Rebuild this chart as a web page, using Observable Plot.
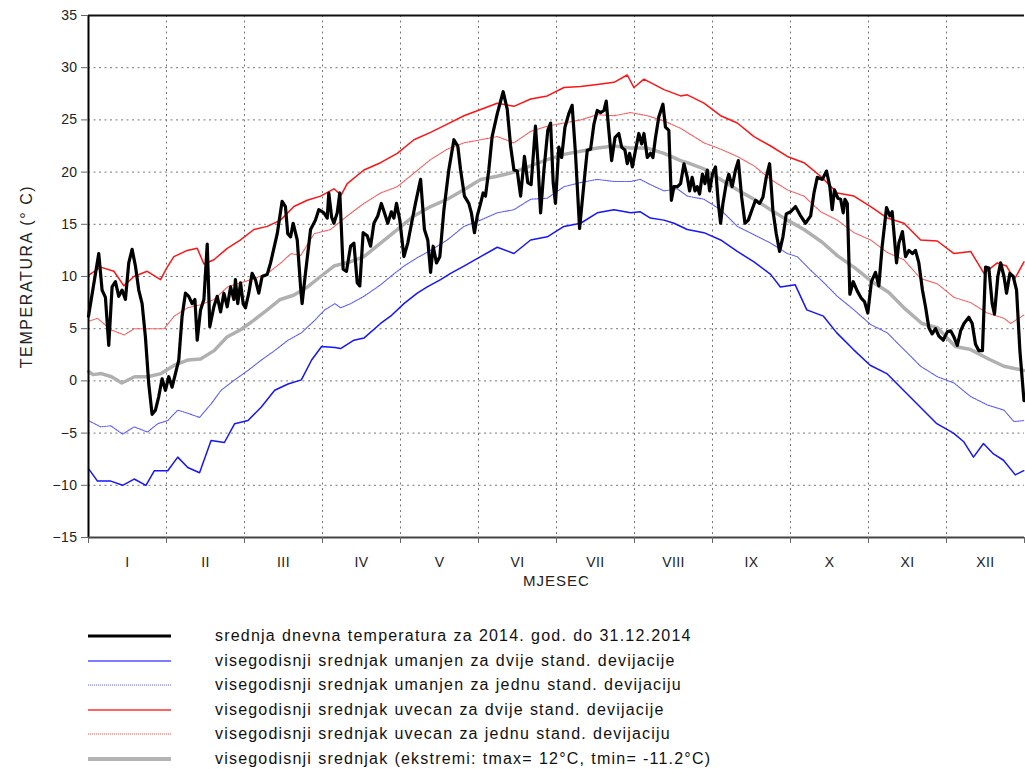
<!DOCTYPE html>
<html>
<head>
<meta charset="utf-8">
<script src="https://cdn.jsdelivr.net/npm/d3@7"></script>
<script src="https://cdn.jsdelivr.net/npm/@observablehq/plot@0.6"></script>
<style>
  html, body { margin: 0; padding: 0; background: #fff; }
  body { width: 1025px; height: 769px; position: relative; overflow: hidden; font-family: "Liberation Sans", Arial, Helvetica, sans-serif; }
  #chart { position: absolute; left: 0; top: 0; }
  #chart text { letter-spacing: 0.4px; }
  #chart g[aria-label="y-axis label"] text { font-size: 16px; letter-spacing: 1.6px; }
  #chart g[aria-label="x-axis label"] text { font-size: 15px; letter-spacing: 1px; }
  #legend { position: absolute; left: 0; top: 624px; width: 1025px; }
  .row { position: relative; height: 24.6px; }
  .row svg { position: absolute; left: 88px; top: 0; }
  .row span { position: absolute; left: 215px; top: 0; line-height: 24.6px; font-size: 16px; letter-spacing: 1.2px; word-spacing: 0.5px; color: #111; white-space: nowrap; }
</style>
</head>
<body>
<div id="chart"></div>
<div id="legend"></div>
<script>
// ---------------- DATA ----------------
const monthLabels = ["I","II","III","IV","V","VI","VII","VIII","IX","X","XI","XII"];
const yTicks = [-15,-10,-5,0,5,10,15,20,25,30,35];

// srednja dnevna temperatura 2014 : [day of year, °C]
const daily2014 = [
[0,6.2],[4,12.2],[5.3,8.7],[6.6,8.0],[7.9,3.4],[9.2,9.0],[10.5,9.5],[11.8,8.1],[13.1,8.7],[14.4,7.8],
[15.7,11.3],[17,12.6],[18.3,11.0],[19.6,8.7],[20.9,7.4],[22.2,4.2],[23.5,-0.3],[24.8,-3.2],[26.1,-2.8],[27.4,-1.5],
[28.7,0.2],[30,-0.9],[31.3,0.4],[32.6,-0.6],[33.9,0.7],[35.2,2.0],[36.5,6.2],[37.8,8.4],[39.1,8.1],[40.4,7.4],
[41.5,7.8],[42.4,3.9],[43.7,6.8],[45,7.8],[46.3,13.1],[47.3,5.2],[48.9,7.1],[50.2,8.1],[51.5,6.6],[52.8,8.4],
[54.1,7.1],[55.4,9.0],[56.7,7.8],[57.3,9.7],[58.2,7.4],[59.3,9.4],[60.3,7.4],[61.2,7.0],[62.5,8.4],[63.8,10.3],
[65.1,9.7],[66.4,8.4],[67.7,10.0],[69.7,10.2],[71,11.3],[73.6,14.1],[75.5,17.2],[76.8,16.7],[77.7,14.1],[78.8,13.8],
[79.8,15.1],[81.4,13.5],[82.7,9.0],[83.3,7.4],[84.6,10.3],[86.6,14.5],[88.5,15.4],[89.8,16.4],[91.8,16.1],[93.1,15.6],
[93.7,18.0],[94.8,15.7],[95.7,15.1],[97,16.1],[98,18.0],[99.3,10.7],[100.6,10.5],[102.2,12.9],[103.5,13.2],[104.8,9.4],
[105.8,9.1],[107.1,14.2],[108.7,13.9],[110,12.9],[111.3,15.1],[112.8,15.8],[114.2,17.0],[115.4,16.1],[116.7,15.1],[118.1,16.2],
[119.1,15.6],[120.1,17.0],[121.4,15.4],[123,11.9],[124.5,13.2],[125.9,15.0],[127.5,17.0],[129.5,19.3],[131,14.5],[132.3,13.5],
[133.4,10.4],[134.4,12.9],[135.7,11.3],[137,11.9],[138.6,16.4],[140.5,20.2],[142.5,23.1],[144,22.5],[145.1,20.2],[146.6,17.7],
[148.3,17.0],[149.3,16.1],[150.5,14.2],[151.6,15.8],[152.9,17.0],[153.9,18.0],[154.8,17.7],[156.1,20.2],[157.4,23.4],[159.4,25.6],
[161.7,27.7],[163.3,26.0],[164.6,22.5],[165.9,20.2],[167.2,20.1],[168.5,17.7],[170,21.5],[171.3,19.0],[172.6,18.8],[174.3,24.4],
[175.2,21.2],[176.3,16.1],[177.6,20.2],[179.1,24.0],[180.2,24.7],[181.2,19.0],[182.1,17.0],[183.4,22.4],[184.5,21.4],[185.8,24.3],
[187.3,25.6],[188.6,26.4],[189.9,21.8],[191.5,14.6],[193.2,18.9],[194.5,22.1],[195.8,22.2],[197.1,24.6],[198.4,25.9],[199.7,25.7],
[201,25.9],[201.9,26.8],[202.9,24.0],[204,21.1],[205.3,23.3],[206.8,23.7],[207.9,22.4],[209.2,22.1],[210.1,20.8],[211,21.8],
[212.1,20.5],[213.3,22.1],[214.6,23.7],[215.7,22.7],[216.6,23.7],[217.9,21.4],[219.2,21.8],[220.1,21.4],[221.1,23.3],[222.4,25.3],
[224,26.5],[225,24.3],[226.3,24.0],[227.3,17.3],[228.3,18.6],[229.6,18.6],[230.9,18.9],[232.2,20.8],[233.5,19.5],[234.4,18.2],
[235.4,19.5],[236.5,18.2],[237.4,18.6],[238.3,17.9],[239.4,19.8],[240.4,18.9],[241.3,20.2],[242.2,18.2],[243.3,19.8],[244.5,20.5],
[245.6,17.0],[246.5,15.1],[247.4,17.0],[248.7,18.9],[249.7,19.8],[251,18.6],[252.3,20.2],[253.4,21.1],[254.7,17.6],[256,15.1],
[257.3,15.4],[258.6,16.3],[260.1,17.3],[261.7,17.0],[263,17.6],[264.3,19.5],[265.6,20.8],[266.9,16.3],[268.2,14.1],[269.5,12.4],
[270.8,13.8],[272.1,16.0],[273.8,16.2],[275.7,16.7],[277.7,15.8],[279.6,15.1],[281.6,15.8],[282.9,18.0],[284.2,19.5],[286.2,19.3],
[287.8,20.1],[289.1,18.6],[290,16.4],[290.9,18.3],[292.2,17.5],[293.3,17.4],[294.3,16.1],[295,17.4],[295.9,17.0],[296.9,8.3],
[298.2,9.5],[299.8,8.6],[301.4,7.9],[302.6,7.6],[303.9,6.5],[305.3,9.5],[306.9,10.4],[308.2,9.1],[309.5,12.9],[311.2,16.6],
[312.5,15.8],[313.4,16.2],[315.1,11.3],[316,13.2],[317.4,14.3],[318.6,11.9],[319.9,12.5],[321.3,12.2],[322.5,12.5],[323.8,11.3],
[325.2,8.7],[326.4,7.1],[327.7,5.1],[329,4.5],[330.3,5.0],[331.6,4.3],[333.3,3.9],[334.9,4.7],[336.2,4.8],[337.5,4.2],
[338.8,3.4],[340.1,4.8],[341.4,5.5],[343.3,6.1],[344.6,5.5],[345.9,3.5],[347.2,2.9],[348.6,2.9],[349.8,10.9],[351.1,10.8],
[352.4,7.4],[353.3,6.4],[354.6,10.0],[355.7,11.3],[357,10.0],[358,8.4],[359.3,10.3],[360.6,10.0],[361.9,8.7],[363.2,2.9],
[364.8,-1.9]
];

// visegodisnji srednjak
const meanClim = [
[0,0.9],[1.8,0.6],[5,0.7],[9,0.4],[13,-0.2],[18,0.4],[23,0.4],[28.3,0.7],[33.5,1.5],[38.7,2.0],
[43.7,2.1],[49,2.9],[54,4.2],[59.3,4.9],[64.4,5.8],[69.7,6.8],[74.8,7.8],[80,8.2],[85.4,9.0],[90.5,10.0],
[95.7,11.0],[102,11.4],[107.4,11.9],[113.9,13.2],[120.4,14.5],[126.9,15.8],[133.4,16.7],[139.9,17.4],[146.4,18.3],[152.9,19.3],
[159.4,19.6],[165.9,20.0],[172.4,20.6],[178.9,21.2],[185.4,21.7],[191.9,22.0],[198.4,22.3],[204.9,22.5],[211.4,22.3],[217.9,22.3],
[224.4,21.8],[230.9,21.1],[233.5,20.9],[240,20.3],[246.5,19.3],[253,18.3],[259.5,17.4],[266,16.4],[272.5,15.4],[279,14.5],
[286,13.3],[292,12.0],[299,10.8],[305,9.6],[312,8.5],[318,7.0],[325,5.5],[331,5.1],[338,3.3],[344,3.0],
[351,2.1],[357,1.4],[364.7,1.0]
];

// visegodisnji srednjak uvecan za dvije stand. devijacije
const plus2sd = [
[0,10.1],[4.7,10.9],[9.9,10.5],[13.8,9.1],[17.7,10.0],[22.9,10.5],[28.1,9.7],[30.7,10.9],[33.3,11.9],[38.5,12.5],
[42.4,12.7],[45,11.2],[48.9,11.6],[54.1,12.7],[59.3,13.5],[64.5,14.5],[69.7,14.8],[74.9,15.4],[80.1,16.7],[85.3,17.3],
[90.5,17.7],[95.7,18.4],[98.5,17.8],[100.9,18.9],[107.4,20.2],[113.9,20.9],[120.4,21.8],[126.9,23.1],[133.4,23.8],[139.9,24.6],
[146.4,25.4],[152.9,26.0],[159.4,26.6],[165.9,26.3],[172.4,27.0],[178.9,27.3],[185.4,28.1],[191.9,28.2],[198.4,28.4],[204.9,28.6],
[210.1,29.3],[212.7,28.1],[216.6,28.9],[224.4,27.9],[230.9,27.3],[233.5,27.4],[240,26.6],[246.5,25.4],[253,24.7],[259.5,23.4],
[266,22.5],[272.5,21.5],[279,20.9],[285.5,19.6],[292,18.0],[298.5,17.7],[305,16.7],[311.5,15.6],[318,15.1],[324.5,13.5],
[331,13.4],[337.5,12.2],[344,12.4],[349.2,10.3],[354.4,11.3],[358,11.0],[361,9.7],[364.8,11.4]
];

// visegodisnji srednjak uvecan za jednu stand. devijaciju
const plus1sd = [
[0,5.7],[3.5,6.0],[8.7,4.9],[13.9,4.4],[17.8,5.0],[23,5.0],[29.5,5.0],[33.4,6.2],[38.6,7.0],[43.8,7.3],
[49,7.8],[54.2,9.0],[59.4,9.4],[64.6,9.8],[69.8,10.3],[75,11.3],[79,12.2],[82.7,12.0],[88,14.1],[94.4,14.5],
[100.9,15.8],[107.4,17.0],[113.9,18.0],[120.4,18.6],[126.9,19.9],[133.4,21.2],[139.9,22.2],[146.4,22.8],[152.9,23.1],[159.4,23.4],
[165.9,22.8],[172.4,23.9],[178.9,24.4],[185.4,24.7],[191.9,25.0],[198.4,25.5],[204.9,25.4],[211.4,25.7],[217.9,25.4],[224.4,24.9],
[230.9,24.2],[233.5,23.8],[240,22.8],[246.5,22.2],[253,21.5],[259.5,20.6],[266,19.3],[272.5,18.3],[279,17.7],[285.5,16.2],
[292,15.4],[298.5,14.2],[305,13.5],[311.5,12.3],[318,11.6],[324.5,9.8],[331,9.3],[337.5,8.0],[344,7.5],[350.5,6.5],
[357,6.0],[359.6,5.5],[364.7,6.3]
];

// visegodisnji srednjak umanjen za dvije stand. devijacije
const minus2sd = [
[0,-8.4],[3.5,-9.6],[8.7,-9.6],[13.3,-10.0],[17.8,-9.4],[22.4,-10.0],[25.7,-8.6],[30.9,-8.6],[34.8,-7.3],[38.7,-8.3],
[43.3,-8.8],[47.8,-5.7],[53,-5.9],[57,-4.1],[62.2,-3.8],[67.4,-2.5],[72.6,-0.9],[77.8,-0.3],[83,0.1],[87,2.0],
[90.9,3.3],[96.1,3.2],[98.3,3.1],[103.5,3.9],[107.4,4.1],[113.9,5.5],[117.8,6.2],[123,7.4],[128.2,8.4],[132.1,9.0],
[137.3,9.7],[141.2,10.3],[146.4,11.0],[152.9,11.9],[159.4,12.8],[165.9,12.2],[172.4,13.5],[178.9,13.8],[185.4,14.8],[191.9,15.1],
[198.4,16.1],[204.9,16.4],[211.4,16.1],[215.2,16.2],[219.1,15.6],[224.4,15.4],[228.3,15.1],[233.5,14.5],[240,14.2],[246.5,13.5],
[253,12.4],[259.5,11.4],[266,10.2],[269.8,9.0],[275.6,9.2],[280.1,6.8],[286.6,6.2],[291.8,4.6],[298.3,3.0],[304.8,1.5],
[311.3,0.7],[317.8,-0.9],[324.3,-2.5],[330.8,-4.1],[337.3,-5.0],[341.2,-5.8],[345.1,-7.3],[349,-6.0],[352.9,-7.0],[356.8,-7.6],
[361.4,-9.0],[364.7,-8.6]
];

// visegodisnji srednjak umanjen za jednu stand. devijaciju
const minus1sd = [
[0,-3.8],[4.7,-4.4],[8.7,-4.3],[13.3,-5.1],[17.8,-4.4],[23,-4.9],[27,-4.1],[30.9,-3.8],[34.8,-2.8],[38.7,-3.1],
[43.3,-3.5],[47.8,-2.2],[51.7,-0.9],[57,0.1],[62.2,1.0],[67.4,2.0],[72.6,2.9],[77.8,3.9],[83,4.6],[88.2,5.8],
[92.1,6.8],[96.1,7.4],[98.3,7.0],[102.2,7.4],[107.4,8.1],[113.9,9.2],[117.8,10.0],[123,11.0],[128.2,11.8],[133.4,12.5],
[139.9,13.5],[146.4,14.8],[152.9,15.4],[159.4,16.1],[165.9,16.4],[172.4,17.4],[178.9,17.5],[185.4,18.6],[191.9,19.0],[198.4,19.3],
[204.9,19.1],[211.4,19.1],[215.2,19.3],[219.1,18.8],[224.4,18.2],[229.6,18.4],[233.5,17.7],[240,17.4],[246.5,16.4],[253,14.8],
[259.5,14.0],[266,13.2],[272.5,12.2],[276.4,11.9],[281.6,10.6],[286.8,9.4],[292,8.1],[298.5,6.8],[305,5.4],[311.5,4.6],
[318,3.0],[324.5,1.4],[331,0.4],[337.5,-0.2],[344,-1.5],[350.5,-2.3],[357,-2.8],[360.9,-3.9],[364.7,-3.8]
];

const legendItems = [
  {label: "srednja dnevna temperatura za 2014. god. do 31.12.2014", color: "#000", width: 3, dash: null},
  {label: "visegodisnji srednjak umanjen za dvije stand. devijacije", color: "#5050ff", width: 1.6, dash: null},
  {label: "visegodisnji srednjak umanjen za jednu stand. devijaciju", color: "#6060ff", width: 1, dash: "1,1"},
  {label: "visegodisnji srednjak uvecan za dvije stand. devijacije", color: "#ff3030", width: 1.6, dash: null},
  {label: "visegodisnji srednjak uvecan za jednu stand. devijaciju", color: "#ff5050", width: 1, dash: "1,1"},
  {label: "visegodisnji srednjak (ekstremi: tmax= 12°C, tmin= -11.2°C)", color: "#b4b4b4", width: 4, dash: null}
];

// ---------------- CHART ----------------
const yearDays = 365;
const monthBounds = d3.range(13).map(i => i * yearDays / 12);
const monthMids = d3.range(12).map(i => (i + 0.5) * yearDays / 12);
const font = "Liberation Sans, Arial, Helvetica, sans-serif";

const chart = Plot.plot({
  width: 1025,
  height: 600,
  marginLeft: 88,
  marginRight: 1,
  marginTop: 15,
  marginBottom: 63,
  style: {fontFamily: font, fontSize: "14px", color: "#222", background: "#fff"},
  x: {domain: [0, yearDays]},
  y: {domain: [-15, 35]},
  marks: [
    Plot.gridY(yTicks, {stroke: "#777", strokeOpacity: 1, strokeDasharray: "2,3.5", strokeWidth: 1}),
    Plot.gridX(monthBounds.slice(1, 12), {stroke: "#777", strokeOpacity: 1, strokeDasharray: "2,3.5", strokeWidth: 1}),
    Plot.lineY(minus2sd, {x: d => d[0], y: d => d[1], stroke: "#1515ff", strokeWidth: 1.5}),
    Plot.lineY(minus1sd, {x: d => d[0], y: d => d[1], stroke: "#5a5aff", strokeWidth: 1.1, strokeDasharray: "1.5,1"}),
    Plot.lineY(plus2sd, {x: d => d[0], y: d => d[1], stroke: "#ff1515", strokeWidth: 1.5}),
    Plot.lineY(plus1sd, {x: d => d[0], y: d => d[1], stroke: "#ff5a5a", strokeWidth: 1.1, strokeDasharray: "1.5,1"}),
    Plot.lineY(meanClim, {x: d => d[0], y: d => d[1], stroke: "#b0b0b0", strokeWidth: 3.5}),
    Plot.lineY(daily2014, {x: d => d[0], y: d => d[1], stroke: "#000", strokeWidth: 3.2, strokeLinejoin: "round"}),
    Plot.ruleX([0], {stroke: "#000", strokeWidth: 2}),
    Plot.ruleY([35], {stroke: "#111", strokeWidth: 2}),
    Plot.ruleY([-15], {stroke: "#444", strokeWidth: 2}),
    Plot.axisY({ticks: yTicks, tickSize: 7, tickPadding: 4, stroke: "#666", fontSize: 14,
      label: "TEMPERATURA (° C)", labelAnchor: "center", labelOffset: 68, labelArrow: "none"}),
    Plot.axisX({ticks: monthBounds, tickSize: 6, stroke: "#666", tickFormat: () => "", label: null}),
    Plot.axisX({ticks: monthMids, tickSize: 0, tickPadding: 20, fontSize: 14, tickFormat: (d, i) => monthLabels[i],
      label: "MJESEC", labelAnchor: "center", labelOffset: 48, labelArrow: "none"})
  ]
});
document.getElementById("chart").appendChild(chart);

// ---------------- LEGEND ----------------
const legend = document.getElementById("legend");
for (const item of legendItems) {
  const row = document.createElement("div");
  row.className = "row";
  const svgNS = "http://www.w3.org/2000/svg";
  const svg = document.createElementNS(svgNS, "svg");
  svg.setAttribute("width", 84);
  svg.setAttribute("height", 24);
  const ln = document.createElementNS(svgNS, "line");
  ln.setAttribute("x1", 0); ln.setAttribute("x2", 83);
  ln.setAttribute("y1", 12); ln.setAttribute("y2", 12);
  ln.setAttribute("stroke", item.color);
  ln.setAttribute("stroke-width", item.width);
  if (item.dash) ln.setAttribute("stroke-dasharray", item.dash);
  svg.appendChild(ln);
  row.appendChild(svg);
  const span = document.createElement("span");
  span.textContent = item.label;
  row.appendChild(span);
  legend.appendChild(row);
}
</script>
</body>
</html>
